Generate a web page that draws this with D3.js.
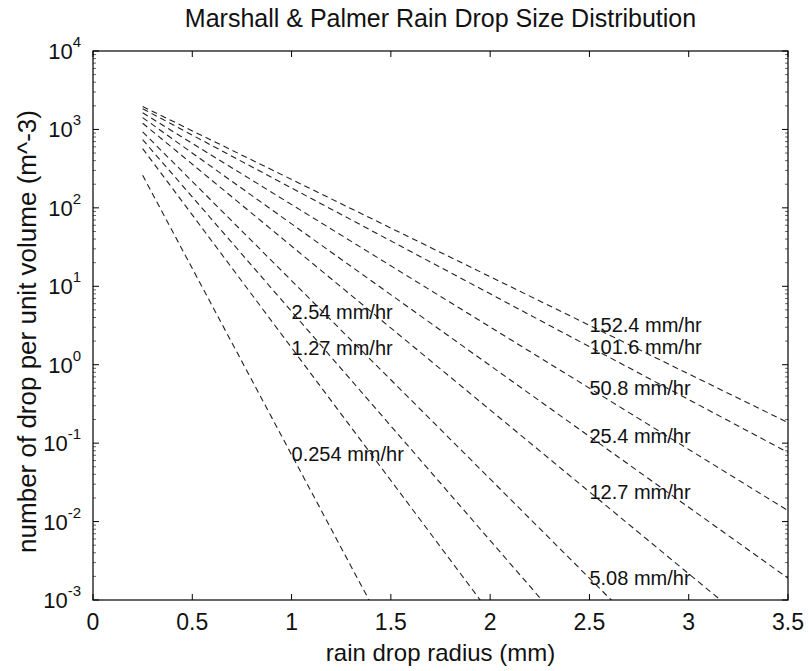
<!DOCTYPE html>
<html>
<head>
<meta charset="utf-8">
<script src="https://cdn.jsdelivr.net/npm/d3@7"></script>
<style>
  body { margin: 0; background: #fff; }
  svg { font-family: "Liberation Sans", Arial, sans-serif; }
</style>
</head>
<body>
<div id="chart"></div>
<script>
// rain rates (mm/hr), one dashed line each
const rates = ["0.254", "1.27", "2.54", "5.08", "12.7", "25.4", "50.8", "101.6", "152.4"];
// first point of each line (radius mm, drops m^-3)
const startR = [0.25, 0.25, 0.25, 0.25, 0.25, 0.25, 0.25, 0.25, 0.25];
const startN = [260, 570, 740, 930, 1200, 1415, 1630, 1840, 1960];
// last point (bottom axis crossing, or right edge)
const endR = [1.39, 1.95, 2.26, 2.61, 3.16, 3.5, 3.5, 3.5, 3.5];
const endN = [1e-3, 1e-3, 1e-3, 1e-3, 1e-3, 1.9e-3, 0.0138, 0.076, 0.183];
// where each label is anchored
const labelR = [1, 1, 1, 2.5, 2.5, 2.5, 2.5, 2.5, 2.5];
const labelN = [0.072, 1.64, 4.7, 1.9e-3, 0.024, 0.123, 0.50, 1.69, 3.19];

const xTicks = [0, 0.5, 1, 1.5, 2, 2.5, 3, 3.5];
const yExps = [-3, -2, -1, 0, 1, 2, 3, 4];

const width = 809, height = 671;
const margin = { top: 51, right: 21, bottom: 71, left: 93 };
const w = width - margin.left - margin.right;
const h = height - margin.top - margin.bottom;

const svg = d3.select("#chart").append("svg")
  .attr("width", width)
  .attr("height", height);

const x = d3.scaleLinear().domain([0, 3.5]).range([0, w]);
const y = d3.scaleLog().domain([1e-3, 1e4]).range([h, 0]);

const g = svg.append("g").attr("transform", `translate(${margin.left},${margin.top})`);

g.append("clipPath").attr("id", "clip")
  .append("rect").attr("width", w).attr("height", h);

// minor ticks on log axis
const minor = [];
yExps.slice(0, -1).forEach(e => {
  for (let k = 2; k <= 9; k++) minor.push(k * Math.pow(10, e));
});

const tickLen = 6, minorLen = 3;
const ticks = g.append("g").attr("stroke", "#000").attr("stroke-width", 1);
xTicks.forEach(t => {
  ticks.append("line").attr("x1", x(t)).attr("x2", x(t)).attr("y1", h).attr("y2", h - tickLen);
  ticks.append("line").attr("x1", x(t)).attr("x2", x(t)).attr("y1", 0).attr("y2", tickLen);
});
yExps.forEach(e => {
  const yy = y(Math.pow(10, e));
  ticks.append("line").attr("x1", 0).attr("x2", tickLen).attr("y1", yy).attr("y2", yy);
  ticks.append("line").attr("x1", w).attr("x2", w - tickLen).attr("y1", yy).attr("y2", yy);
});
minor.forEach(v => {
  const yy = y(v);
  ticks.append("line").attr("x1", 0).attr("x2", minorLen).attr("y1", yy).attr("y2", yy).attr("stroke-width", 0.6);
  ticks.append("line").attr("x1", w).attr("x2", w - minorLen).attr("y1", yy).attr("y2", yy).attr("stroke-width", 0.6);
});

// dashed lines
const line = d3.line().x(d => x(d[0])).y(d => y(d[1]));
const series = rates.map((r, i) => [[startR[i], startN[i]], [endR[i], endN[i]]]);

g.append("g").attr("clip-path", "url(#clip)")
  .selectAll("path")
  .data(series)
  .join("path")
  .attr("d", line)
  .attr("fill", "none")
  .attr("stroke", "#222")
  .attr("stroke-width", 1.1)
  .attr("stroke-dasharray", "6,4");

// labels
g.append("g")
  .selectAll("text")
  .data(rates)
  .join("text")
  .attr("x", (d, i) => x(labelR[i]))
  .attr("y", (d, i) => y(labelN[i]))
  .attr("dy", "0.35em")
  .attr("font-size", 20)
  .attr("fill", "#111")
  .text(d => d + " mm/hr");

// box
g.append("rect")
  .attr("width", w).attr("height", h)
  .attr("fill", "none").attr("stroke", "#000").attr("stroke-width", 1.2);

// x tick labels
g.append("g")
  .selectAll("text")
  .data(xTicks)
  .join("text")
  .attr("x", d => x(d))
  .attr("y", h + 30)
  .attr("text-anchor", "middle")
  .attr("font-size", 23)
  .attr("fill", "#111")
  .text(d => d3.format("~g")(d));

// y tick labels 10^n
const yl = g.append("g")
  .selectAll("text")
  .data(yExps)
  .join("text")
  .attr("x", -12)
  .attr("y", d => y(Math.pow(10, d)) + 8)
  .attr("text-anchor", "end")
  .attr("font-size", 22)
  .attr("fill", "#111");
yl.append("tspan").text("10");
yl.append("tspan").attr("dy", -12).attr("font-size", 15).text(d => d);

// titles
svg.append("text")
  .attr("x", margin.left + w / 2)
  .attr("y", 27)
  .attr("text-anchor", "middle")
  .attr("font-size", 25)
  .attr("fill", "#111")
  .text("Marshall & Palmer Rain Drop Size Distribution");

svg.append("text")
  .attr("x", margin.left + w / 2)
  .attr("y", 661)
  .attr("text-anchor", "middle")
  .attr("font-size", 24)
  .attr("fill", "#111")
  .text("rain drop radius (mm)");

svg.append("text")
  .attr("transform", `translate(36,${margin.top + h / 2 + 6}) rotate(-90)`)
  .attr("text-anchor", "middle")
  .attr("font-size", 26)
  .attr("fill", "#111")
  .text("number of drop per unit volume (m^-3)");
</script>
</body>
</html>
